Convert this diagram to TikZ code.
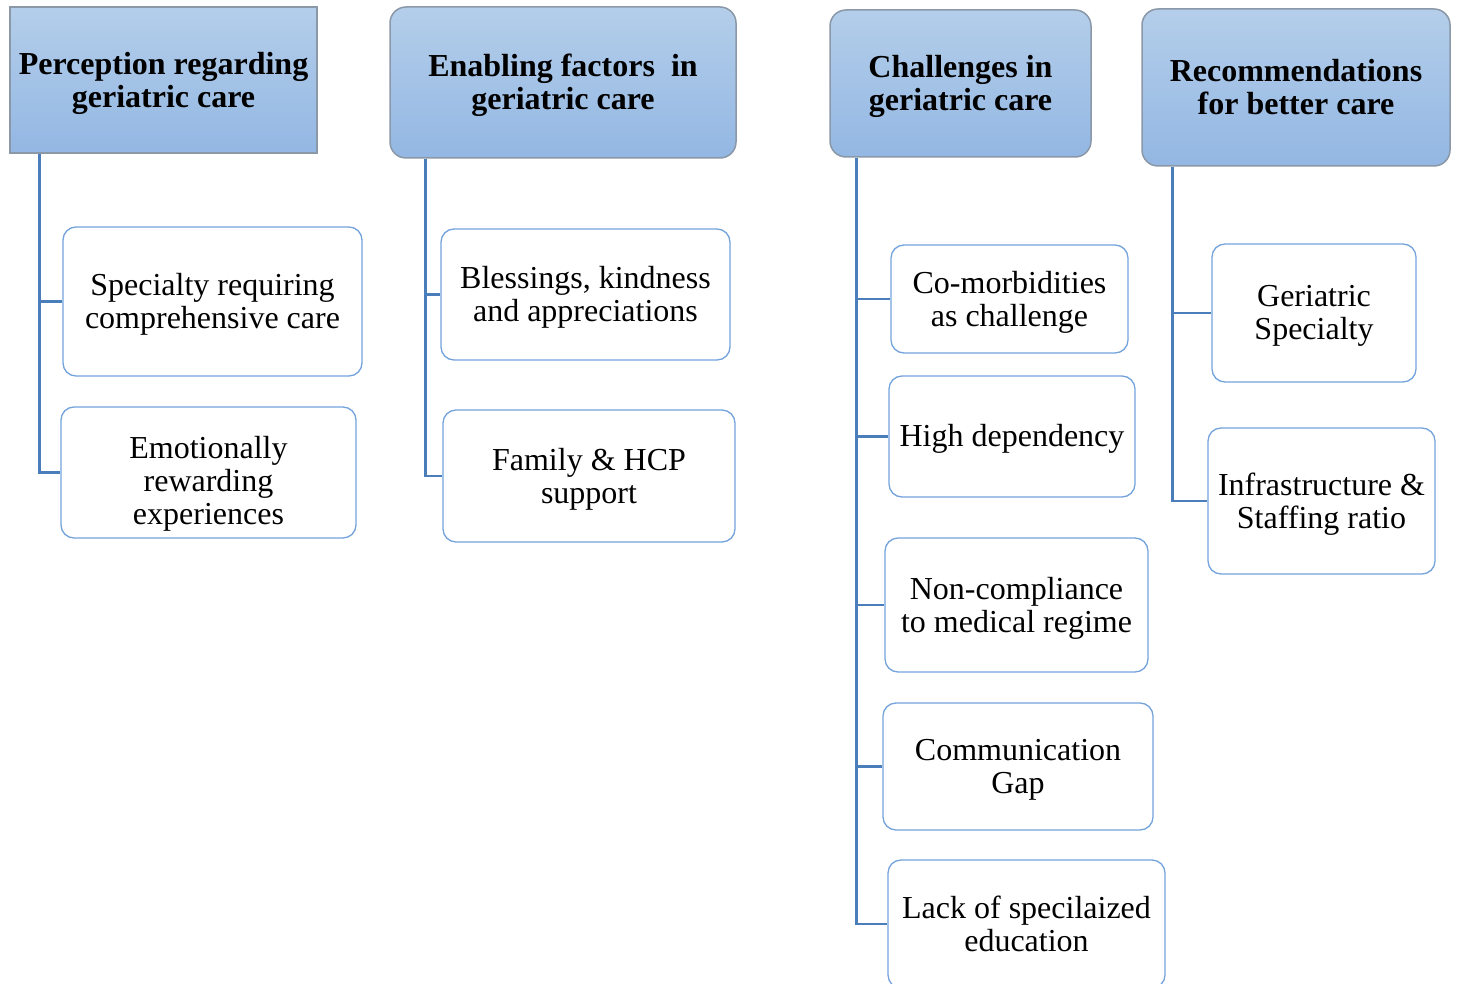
\documentclass[tikz,border=0pt]{standalone}
\usepackage{fontspec}
\setmainfont{Liberation Serif}
\definecolor{headtop}{HTML}{B4CEEA}
\definecolor{headbot}{HTML}{93B7E3}
\definecolor{headedge}{HTML}{8A98A8}
\definecolor{linkblue}{HTML}{4A7EBB}
\definecolor{childedge}{HTML}{74A3DC}
\begin{document}
\begin{tikzpicture}[x=1pt,y=-1pt,
  every node/.style={font=\fontsize{32}{33}\selectfont, align=center, inner sep=0pt},
  headbox/.style={draw=headedge, line width=1.5pt, top color=headtop, bottom color=headbot},
  roundhead/.style={headbox, rounded corners=16pt},
  childbox/.style={draw=childedge, line width=1.3pt, fill=white, rounded corners=13pt},
  headtext/.style={font=\fontsize{32}{33}\selectfont\bfseries, yshift=-3pt},
  boxtext/.style={yshift=-3pt},
  link/.style={draw=linkblue, line width=2.6pt}]
\clip (0,0) rectangle (1458,984);
\fill[white] (0,0) rectangle (1458,984);

% column headers
\node[headbox, minimum width=307pt, minimum height=146pt] (h1) at (163.5,80) {};
\node[roundhead, minimum width=346pt, minimum height=151pt] (h2) at (563,82.5) {};
\node[roundhead, minimum width=261pt, minimum height=147pt] (h3) at (960.5,83.5) {};
\node[roundhead, minimum width=308pt, minimum height=157pt] (h4) at (1296,87.5) {};
\node[headtext] (h1t) at (h1.center) {Perception regarding\\geriatric care};
\node[headtext] (h2t) at (h2.center) {Enabling factors~ in\\geriatric care};
\node[headtext] (h3t) at (h3.center) {Challenges in\\geriatric care};
\node[headtext, yshift=3pt] (h4t) at (h4.center) {Recommendations\\for better care};

% perception
\node[childbox, minimum width=299pt, minimum height=149pt] (c11) at (212.5,301.5) {};
\node[childbox, minimum width=295pt, minimum height=131pt] (c12) at (208.5,472.5) {};
\node[boxtext] (c11t) at (c11.center) {Specialty requiring\\comprehensive care};
\node[boxtext, yshift=-8pt] (c12t) at (c12.center) {Emotionally\\rewarding\\experiences};

% enabling factors
\node[childbox, minimum width=289pt, minimum height=131pt] (c21) at (585.5,294.5) {};
\node[childbox, minimum width=292pt, minimum height=132pt] (c22) at (589,476) {};
\node[boxtext] (c21t) at (c21.center) {Blessings, kindness\\and appreciations};
\node[boxtext] (c22t) at (c22.center) {Family \& HCP\\support};

% challenges
\node[childbox, minimum width=237pt, minimum height=108pt] (c31) at (1009.5,299) {};
\node[childbox, minimum width=246pt, minimum height=121pt] (c32) at (1012,436.5) {};
\node[childbox, minimum width=263pt, minimum height=134pt] (c33) at (1016.5,605) {};
\node[childbox, minimum width=270pt, minimum height=127pt] (c34) at (1018,766.5) {};
\node[childbox, minimum width=277pt, minimum height=128pt] (c35) at (1026.5,924) {};
\node[boxtext] (c31t) at (c31.center) {Co-morbidities\\as challenge};
\node[boxtext, yshift=1pt] (c32t) at (c32.center) {High dependency};
\node[boxtext] (c33t) at (c33.center) {Non-compliance\\to medical regime};
\node[boxtext] (c34t) at (c34.center) {Communication\\Gap};
\node (c35t) at (c35.center) {Lack of specilaized\\education};

% recommendations
\node[childbox, minimum width=204pt, minimum height=138pt] (c41) at (1314,313) {};
\node[childbox, minimum width=227pt, minimum height=146pt] (c42) at (1321.5,501) {};
\node[boxtext] (c41t) at (c41.center) {Geriatric\\Specialty};
\node[boxtext] (c42t) at (c42.center) {Infrastructure \&\\Staffing ratio};

% trunk points under each header
\coordinate (t1) at ([xshift=30pt]h1.south west);
\coordinate (t2) at ([xshift=36pt]h2.south west);
\coordinate (t3) at ([xshift=27pt]h3.south west);
\coordinate (t4) at ([xshift=31pt]h4.south west);

% connectors
\draw[link] (t1) |- (c12.west);
\draw[link] (c11.west) -| (t1);
\draw[link] (t2) |- (c22.west);
\draw[link] (c21.west) -| (t2);
\draw[link] (t3) |- (c35.west);
\foreach \c in {c31,c32,c33,c34} \draw[link] (\c.west) -| (t3);
\draw[link] (t4) |- (c42.west);
\draw[link] (c41.west) -| (t4);
\end{tikzpicture}
\end{document}
